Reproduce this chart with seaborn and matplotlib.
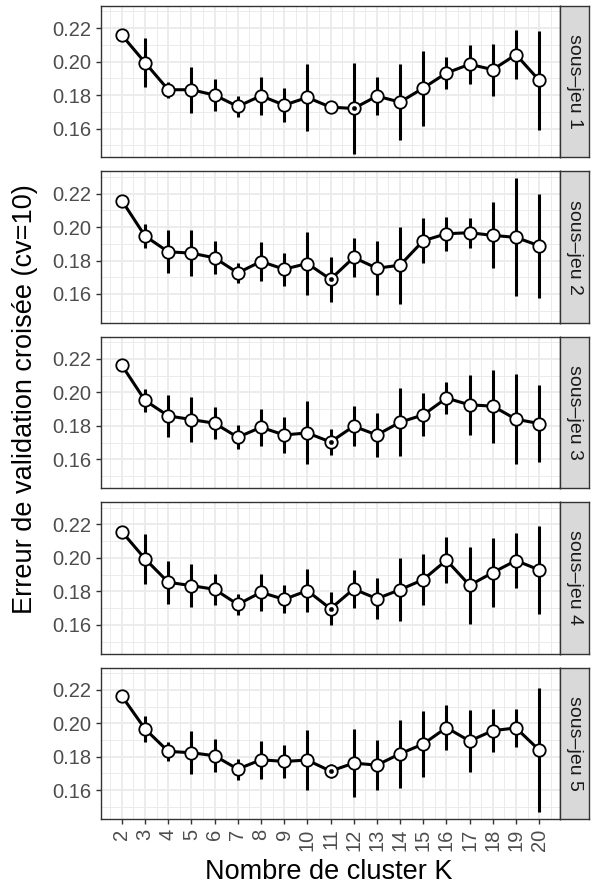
import numpy as np
import pandas as pd
import matplotlib
matplotlib.use("Agg")
import matplotlib.pyplot as plt
import seaborn as sns

# nombre de clusters testes
K = list(range(2, 21))
sous_jeux = ["sous–jeu 1", "sous–jeu 2", "sous–jeu 3", "sous–jeu 4", "sous–jeu 5"]

# erreur moyenne de validation croisee, par sous-jeu
err_1 = [0.2158, 0.1994, 0.1832, 0.1832, 0.1800, 0.1732, 0.1796, 0.1740, 0.1786, 0.1728,
         0.1720, 0.1794, 0.1758, 0.1842, 0.1932, 0.1984, 0.1952, 0.2042, 0.1888]
err_2 = [0.2158, 0.1946, 0.1852, 0.1844, 0.1816, 0.1726, 0.1794, 0.1748, 0.1782, 0.1688,
         0.1818, 0.1754, 0.1772, 0.1918, 0.1960, 0.1966, 0.1950, 0.1938, 0.1888]
err_3 = [0.2162, 0.1952, 0.1860, 0.1838, 0.1816, 0.1732, 0.1792, 0.1746, 0.1758, 0.1704,
         0.1798, 0.1746, 0.1822, 0.1866, 0.1966, 0.1926, 0.1918, 0.1840, 0.1814]
err_4 = [0.2156, 0.1994, 0.1854, 0.1834, 0.1812, 0.1722, 0.1794, 0.1752, 0.1804, 0.1696,
         0.1814, 0.1756, 0.1810, 0.1870, 0.1986, 0.1836, 0.1912, 0.1984, 0.1928]
err_5 = [0.2162, 0.1966, 0.1832, 0.1824, 0.1806, 0.1726, 0.1782, 0.1772, 0.1780, 0.1714,
         0.1762, 0.1750, 0.1818, 0.1876, 0.1974, 0.1894, 0.1956, 0.1972, 0.1840]

# demi-largeur des barres d'erreur (ecart-type)
sd_1 = [0.0020, 0.0145, 0.0048, 0.0138, 0.0098, 0.0060, 0.0112, 0.0100, 0.0199, 0.0020,
        0.0269, 0.0112, 0.0229, 0.0224, 0.0094, 0.0118, 0.0156, 0.0147, 0.0295]
sd_2 = [0.0020, 0.0071, 0.0128, 0.0138, 0.0098, 0.0060, 0.0114, 0.0098, 0.0190, 0.0135,
        0.0117, 0.0160, 0.0230, 0.0133, 0.0102, 0.0090, 0.0197, 0.0352, 0.0312]
sd_3 = [0.0020, 0.0069, 0.0127, 0.0132, 0.0096, 0.0071, 0.0112, 0.0107, 0.0188, 0.0080,
        0.0120, 0.0130, 0.0203, 0.0129, 0.0094, 0.0180, 0.0218, 0.0270, 0.0228]
sd_4 = [0.0020, 0.0148, 0.0128, 0.0127, 0.0094, 0.0065, 0.0110, 0.0083, 0.0130, 0.0100,
        0.0116, 0.0121, 0.0190, 0.0150, 0.0138, 0.0229, 0.0208, 0.0162, 0.0263]
sd_5 = [0.0020, 0.0080, 0.0056, 0.0130, 0.0098, 0.0062, 0.0115, 0.0099, 0.0180, 0.0042,
        0.0202, 0.0149, 0.0203, 0.0195, 0.0135, 0.0186, 0.0130, 0.0115, 0.0372]

erreurs = [err_1, err_2, err_3, err_4, err_5]
sds = [sd_1, sd_2, sd_3, sd_4, sd_5]

rows = []
for nom, e, s in zip(sous_jeux, erreurs, sds):
    for k, ei, si in zip(K, e, s):
        rows.append({"sous_jeu": nom, "K": k, "erreur": ei, "sd": si})
df = pd.DataFrame(rows)

sns.set_theme(style="white")
plt.rcParams["font.family"] = ["Liberation Sans", "DejaVu Sans"]

fig, axes = plt.subplots(5, 1, figsize=(5.92, 8.86), dpi=100, sharex=True)
fig.subplots_adjust(left=0.1706, right=0.946, top=0.9932, bottom=0.0756, hspace=0.093)

grid_col = "#EBEBEB"
for i, (ax, nom) in enumerate(zip(axes, sous_jeux)):
    d = df[df["sous_jeu"] == nom]
    ax.set_facecolor("white")
    ax.set_xlim(1.1, 20.9)
    ax.set_ylim(0.1428, 0.2332)
    ax.set_xticks(K)
    ax.set_xticks(np.arange(1.5, 21, 1), minor=True)
    ax.set_yticks([0.16, 0.18, 0.20, 0.22])
    ax.set_yticks([0.15, 0.17, 0.19, 0.21, 0.23], minor=True)
    ax.grid(which="major", color=grid_col, lw=1.3)
    ax.grid(which="minor", color=grid_col, lw=0.7)
    ax.set_axisbelow(True)

    ax.vlines(d["K"], d["erreur"] - d["sd"], d["erreur"] + d["sd"], color="black", lw=2.2, zorder=2)
    sns.lineplot(data=d, x="K", y="erreur", color="black", lw=2.2, ax=ax, zorder=3)
    sns.scatterplot(data=d, x="K", y="erreur", color="white", edgecolor="black", linewidth=1.3,
                    s=80, ax=ax, zorder=4)
    # le minimum est marque d'un point noir
    dmin = d.loc[[d["erreur"].idxmin()]]
    sns.scatterplot(data=dmin, x="K", y="erreur", color="black", edgecolor="black", s=10,
                    ax=ax, zorder=5)

    ax.set_xlabel("")
    ax.set_ylabel("")
    ax.set_yticklabels(["0.16", "0.18", "0.20", "0.22"])
    last = i == len(sous_jeux) - 1
    ax.tick_params(axis="both", which="major", length=3.5, width=1, color="#333333",
                   labelsize=14.5, labelcolor="#4D4D4D", left=True, bottom=last)
    ax.tick_params(axis="both", which="minor", length=0)
    for sp in ax.spines.values():
        sp.set_color("#333333")
        sp.set_linewidth(1)

    # bandeau de facette a droite
    pos = ax.get_position()
    strip = fig.add_axes([pos.x1, pos.y0, 29 / 592, pos.height])
    strip.set_facecolor("#D9D9D9")
    strip.set_xticks([])
    strip.set_yticks([])
    for sp in strip.spines.values():
        sp.set_color("#333333")
        sp.set_linewidth(1)
    strip.text(0.5, 0.5, nom, rotation=-90, ha="center", va="center", fontsize=14,
               color="#1A1A1A", transform=strip.transAxes)

axes[-1].set_xticklabels([str(k) for k in K], rotation=90, va="top", ha="center")

fig.text(0.556, 0.016, "Nombre de cluster K", ha="center", va="center", fontsize=19.5, color="black")
fig.text(0.042, 0.550, "Erreur de validation croisée (cv=10)", ha="center", va="center",
         rotation=90, fontsize=19.5, color="black")

fig.savefig("out.png", dpi=100)
